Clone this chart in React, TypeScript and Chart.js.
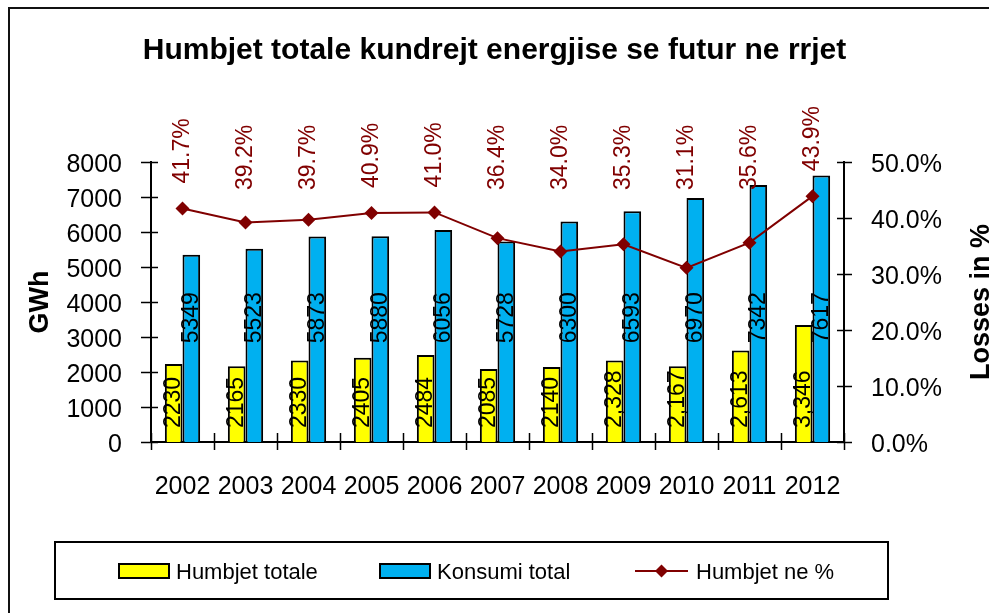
import React, { useEffect, useRef } from 'react';
import { Chart, registerables } from 'chart.js';

Chart.register(...registerables);

const FONT = '"Liberation Sans", Arial, Helvetica, sans-serif';

const TITLE = 'Humbjet totale kundrejt energjise se futur ne rrjet';
const years = ['2002', '2003', '2004', '2005', '2006', '2007', '2008', '2009', '2010', '2011', '2012'];
const lossesGWh = [2230, 2165, 2330, 2405, 2484, 2085, 2140, 2328, 2167, 2613, 3346];
const lossesLabels = ['2230', '2165', '2330', '2405', '2484', '2085', '2140', '2,328', '2,167', '2,613', '3,346'];
const consumptionGWh = [5349, 5523, 5873, 5880, 6056, 5728, 6300, 6593, 6970, 7342, 7617];
const lossesPct = [41.7, 39.2, 39.7, 40.9, 41.0, 36.4, 34.0, 35.3, 31.1, 35.6, 43.9];
const seriesNames = ['Humbjet totale', 'Konsumi total', 'Humbjet ne %'];
const leftAxisTitle = 'GWh';
const rightAxisTitle = 'Losses in %';

const YELLOW = '#FFFF00';
const BLUE = '#00B0F0';
const DARKRED = '#800000';

const overlay = {
  id: 'overlay',
  afterDraw(chart: any) {
    const { ctx, scales } = chart;
    const xs = scales.x, ys = scales.y, y1 = scales.y1;
    ctx.save();

    // outer frame
    ctx.strokeStyle = '#111';
    ctx.lineWidth = 2;
    ctx.strokeRect(9, 8, 1200, 900);

    // tick marks crossing the axes
    ctx.strokeStyle = '#000';
    ctx.lineWidth = 1.5;
    ctx.beginPath();
    const lx = ys.right;
    ys.ticks.forEach((t: any) => {
      const p = Math.round(ys.getPixelForValue(t.value)) + 0.5;
      ctx.moveTo(lx - 10, p);
      ctx.lineTo(lx + 7, p);
    });
    const rx = y1.left;
    y1.ticks.forEach((t: any) => {
      const p = Math.round(y1.getPixelForValue(t.value)) + 0.5;
      ctx.moveTo(rx - 7, p);
      ctx.lineTo(rx + 8, p);
    });
    const by = xs.top;
    for (let i = 0; i <= years.length; i++) {
      const p = Math.round(xs.getPixelForValue(i - 0.5)) + 0.5;
      ctx.moveTo(p, by - 9);
      ctx.lineTo(p, by + 8);
    }
    ctx.stroke();

    // bar labels
    ctx.font = `23px ${FONT}`;
    ctx.fillStyle = '#000';
    ctx.textBaseline = 'middle';
    const metaLoss = chart.getDatasetMeta(1);
    const metaCons = chart.getDatasetMeta(2);
    const metaPct = chart.getDatasetMeta(0);
    metaLoss.data.forEach((bar: any, i: number) => {
      ctx.save();
      ctx.translate(bar.x, ys.getPixelForValue(0) - 14);
      ctx.rotate(-Math.PI / 2);
      ctx.textAlign = 'left';
      ctx.fillText(lossesLabels[i], 0, 0);
      ctx.restore();
    });
    metaCons.data.forEach((bar: any, i: number) => {
      ctx.save();
      ctx.translate(bar.x, ys.getPixelForValue(3550));
      ctx.rotate(-Math.PI / 2);
      ctx.textAlign = 'center';
      ctx.fillText(String(consumptionGWh[i]), 0, 0);
      ctx.restore();
    });
    ctx.fillStyle = DARKRED;
    metaPct.data.forEach((pt: any, i: number) => {
      const yy = Math.min(pt.y - 25, y1.getPixelForValue(45));
      ctx.save();
      ctx.translate(pt.x, yy);
      ctx.rotate(-Math.PI / 2);
      ctx.textAlign = 'left';
      ctx.fillText(lossesPct[i].toFixed(1) + '%', 0, 0);
      ctx.restore();
    });

    // axis titles
    ctx.fillStyle = '#000';
    ctx.font = `bold 27px ${FONT}`;
    ctx.textAlign = 'center';
    const cy = (ys.top + ys.bottom) / 2;
    ctx.save();
    ctx.translate(41, cy);
    ctx.rotate(-Math.PI / 2);
    ctx.fillText(leftAxisTitle, 0, 0);
    ctx.restore();
    ctx.save();
    ctx.translate(982, cy);
    ctx.rotate(-Math.PI / 2);
    ctx.fillText(rightAxisTitle, 0, 0);
    ctx.restore();

    // legend
    ctx.strokeStyle = '#000';
    ctx.lineWidth = 2;
    ctx.strokeRect(55, 542, 833, 57);
    ctx.font = `22px ${FONT}`;
    ctx.textAlign = 'left';
    ctx.textBaseline = 'middle';
    const ly = 571;
    const swatches = [
      { x: 119, color: YELLOW, name: seriesNames[0] },
      { x: 380, color: BLUE, name: seriesNames[1] },
    ];
    swatches.forEach((s) => {
      ctx.fillStyle = s.color;
      ctx.fillRect(s.x, ly - 7, 50, 14);
      ctx.strokeRect(s.x, ly - 7, 50, 14);
      ctx.fillStyle = '#000';
      ctx.fillText(s.name, s.x + 57, ly + 2);
    });
    ctx.strokeStyle = DARKRED;
    ctx.beginPath();
    ctx.moveTo(635, ly);
    ctx.lineTo(688, ly);
    ctx.stroke();
    ctx.fillStyle = DARKRED;
    ctx.beginPath();
    ctx.moveTo(661.5, ly - 6.5);
    ctx.lineTo(668, ly);
    ctx.lineTo(661.5, ly + 6.5);
    ctx.lineTo(655, ly);
    ctx.closePath();
    ctx.fill();
    ctx.fillStyle = '#000';
    ctx.fillText(seriesNames[2], 696, ly + 2);

    ctx.restore();
  },
};

export default function App() {
  const ref = useRef<HTMLCanvasElement | null>(null);
  useEffect(() => {
    if (!ref.current) return;
    const tickFont = { family: FONT, size: 25 };
    const chart = new Chart(ref.current, {
      type: 'bar',
      data: {
        labels: years,
        datasets: [
          {
            type: 'line',
            label: seriesNames[2],
            data: lossesPct,
            yAxisID: 'y1',
            borderColor: DARKRED,
            backgroundColor: DARKRED,
            borderWidth: 2,
            pointStyle: 'rectRot',
            pointRadius: 7,
            pointBackgroundColor: DARKRED,
            pointBorderColor: DARKRED,
            pointBorderWidth: 0,
            tension: 0,
            order: 0,
          } as any,
          {
            type: 'bar',
            label: seriesNames[0],
            data: lossesGWh,
            yAxisID: 'y',
            backgroundColor: YELLOW,
            borderColor: '#000',
            borderWidth: 2,
            categoryPercentage: 0.56,
            barPercentage: 1,
            order: 1,
          },
          {
            type: 'bar',
            label: seriesNames[1],
            data: consumptionGWh,
            yAxisID: 'y',
            backgroundColor: BLUE,
            borderColor: '#000',
            borderWidth: 2,
            categoryPercentage: 0.56,
            barPercentage: 1,
            order: 1,
          },
        ],
      },
      options: {
        responsive: false,
        animation: false,
        layout: { padding: 0 },
        plugins: {
          legend: { display: false },
          tooltip: { enabled: false },
          title: {
            display: true,
            text: TITLE,
            color: '#000',
            font: { family: FONT, size: 30, weight: 'bold' },
            padding: { top: 33, bottom: 93 },
          },
        },
        scales: {
          x: {
            grid: { display: false, drawTicks: false },
            border: { display: true, color: '#000', width: 2 },
            ticks: { font: tickFont, color: '#000', padding: 30, maxRotation: 0, autoSkip: false },
            afterFit: (s: any) => { s.height = 613 - 442; },
          },
          y: {
            position: 'left',
            min: 0,
            max: 8000,
            grid: { display: false, drawTicks: false },
            border: { display: true, color: '#000', width: 2 },
            ticks: {
              stepSize: 1000,
              font: tickFont,
              color: '#000',
              padding: 29,
              labelOffset: 3,
              callback: (v: any) => String(v),
            },
            afterFit: (s: any) => { s.width = 151; },
          },
          y1: {
            position: 'right',
            min: 0,
            max: 50,
            grid: { display: false, drawTicks: false },
            border: { display: true, color: '#000', width: 2 },
            ticks: {
              stepSize: 10,
              font: tickFont,
              color: '#000',
              padding: 27,
              labelOffset: 3,
              callback: (v: any) => Number(v).toFixed(1) + '%',
            },
            afterFit: (s: any) => { s.width = 989 - 844; },
          },
        },
      } as any,
      plugins: [overlay],
    });
    return () => chart.destroy();
  }, []);
  return (
    <div style={{ position: 'absolute', left: 0, top: 0, width: 989, height: 613, background: '#fff' }}>
      <canvas ref={ref} width={989} height={613} style={{ display: 'block' }} />
    </div>
  );
}
